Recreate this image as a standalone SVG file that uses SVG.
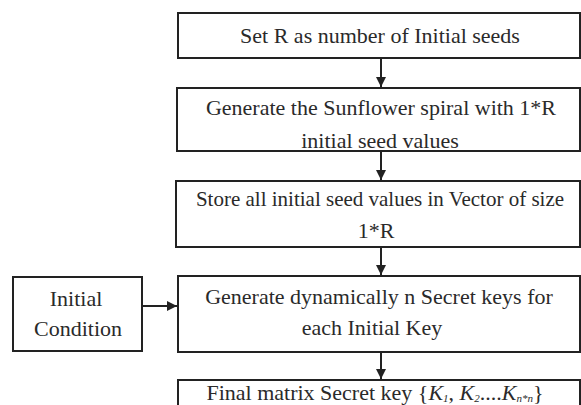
<svg xmlns="http://www.w3.org/2000/svg" width="581" height="405" viewBox="0 0 581 405">
<defs>
<style>
.box{fill:#fff;stroke:#222;stroke-width:2}
.t{font-family:"Liberation Serif","Times New Roman",serif;font-size:22px;fill:#2a2a2a;text-anchor:middle}
.c{stroke:#222;stroke-width:2;fill:none}
</style>
<marker id="ah" viewBox="0 0 10 10" refX="10" refY="5" markerWidth="5" markerHeight="5" orient="auto" markerUnits="strokeWidth">
<path d="M0,0 L10,5 L0,10 Z" fill="#222"/>
</marker>
</defs>
<rect width="581" height="405" fill="#fff"/>
<g id="n1">
<rect class="box" x="178" y="13" width="402" height="45"/>
<text class="t" x="380" y="43">Set R as number of Initial seeds</text>
</g>
<g id="n2">
<rect class="box" x="177" y="88" width="403" height="63"/>
<text class="t" x="381" y="115">Generate the Sunflower spiral with 1*R</text>
<text class="t" x="380" y="148">initial seed values</text>
</g>
<g id="n3">
<rect class="box" x="176" y="181" width="404" height="66"/>
<text class="t" x="380" y="206" style="font-size:21px">Store all initial seed values in Vector of size</text>
<text class="t" x="376" y="238">1*R</text>
</g>
<g id="n4">
<rect class="box" x="178" y="276" width="402" height="76"/>
<text class="t" x="379" y="304">Generate dynamically n Secret keys for</text>
<text class="t" x="372" y="335">each Initial Key</text>
</g>
<g id="ic">
<rect class="box" x="13" y="277" width="129" height="74"/>
<text class="t" x="76" y="306">Initial</text>
<text class="t" x="78" y="336">Condition</text>
</g>
<g id="n5">
<rect class="box" x="178" y="380" width="402" height="40"/>
<text class="t" x="375" y="400">Final matrix Secret key {<tspan font-style="italic">K</tspan><tspan font-size="11" dy="2" font-style="italic">1</tspan><tspan dy="-2">, </tspan><tspan font-style="italic">K</tspan><tspan font-size="11" dy="2" font-style="italic">2</tspan><tspan dy="-2">....</tspan><tspan font-style="italic">K</tspan><tspan font-size="11" dy="2" font-style="italic">n*n</tspan><tspan dy="-2">}</tspan></text>
</g>
<g id="connectors">
<line class="c" x1="381" y1="58" x2="381" y2="87" marker-end="url(#ah)"/>
<line class="c" x1="381" y1="151" x2="381" y2="180" marker-end="url(#ah)"/>
<line class="c" x1="381" y1="247" x2="381" y2="275" marker-end="url(#ah)"/>
<line class="c" x1="142" y1="306" x2="177" y2="306" marker-end="url(#ah)"/>
<line class="c" x1="381" y1="352" x2="381" y2="379" marker-end="url(#ah)"/>
</g>
</svg>
